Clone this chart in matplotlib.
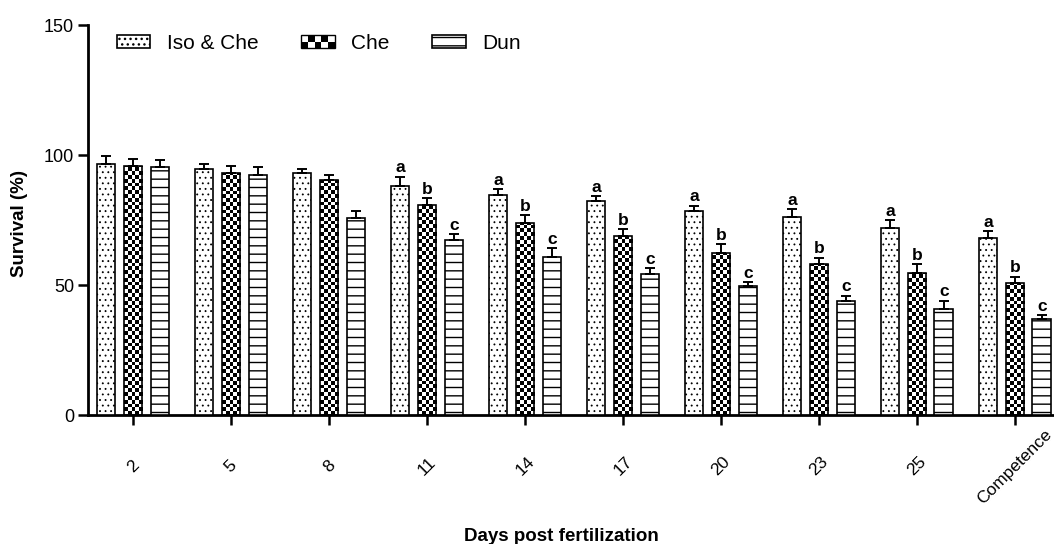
import numpy as np
import matplotlib
matplotlib.use('Agg')
import matplotlib.pyplot as plt
from matplotlib.patches import Rectangle
from matplotlib.legend_handler import HandlerBase

plt.rcParams['font.family'] = ['Liberation Sans', 'DejaVu Sans']
plt.rcParams['hatch.linewidth'] = 1.0

days = ['2', '5', '8', '11', '14', '17', '20', '23', '25', 'Competence']
iso_che = [96.5, 94.5, 93.0, 88.2, 84.6, 82.4, 78.5, 76.3, 71.9, 68.2]
iso_che_err = [3.1, 1.9, 1.7, 3.5, 2.2, 1.8, 2.0, 2.9, 3.1, 2.6]
che = [95.9, 93.0, 90.5, 80.8, 73.7, 68.9, 62.2, 58.1, 54.5, 50.6]
che_err = [2.6, 2.9, 1.9, 2.5, 3.1, 2.6, 3.4, 2.4, 3.4, 2.6]
dun = [95.2, 92.4, 75.8, 67.3, 60.6, 54.1, 49.6, 43.8, 40.6, 36.9]
dun_err = [2.8, 3.0, 2.7, 2.2, 3.7, 2.4, 1.4, 2.1, 3.4, 1.6]
letters = [None, None, None, 'abc', 'abc', 'abc', 'abc', 'abc', 'abc', 'abc']

fig = plt.figure(figsize=(10.54, 5.44), dpi=100)
ax = fig.add_axes([88 / 1054, 129 / 544, 966 / 1054, 390 / 544])

x = np.arange(len(days))
w = 0.19
off = 0.275


def checker(ax, bar, nx=5, cell_px=3.8):
    x0, y0 = bar.get_x(), bar.get_y()
    bw, bh = bar.get_width(), bar.get_height()
    cell_y = cell_px / 2.6
    ny = int(np.ceil(bh / cell_y))
    img = (np.add.outer(np.arange(ny), np.arange(nx)) % 2).astype(float)
    im = ax.imshow(img, cmap='gray_r', vmin=0, vmax=1, origin='lower',
                   extent=[x0, x0 + bw, y0, y0 + ny * cell_y],
                   aspect='auto', interpolation='nearest', zorder=2)
    im.set_clip_path(bar)


with plt.rc_context({'hatch.linewidth': 0.6}):
    b1 = ax.bar(x - off, iso_che, w, color='white', edgecolor='black', hatch='...',
                linewidth=1.2, zorder=3, label='Iso & Che')
b2 = ax.bar(x, che, w, color='none', edgecolor='black', linewidth=1.2,
            zorder=3, label='Che')
b3 = ax.bar(x + off, dun, w, color='white', edgecolor='black', hatch='--',
            linewidth=1.2, zorder=3, label='Dun')
for bar in b2:
    checker(ax, bar)

for xs, vals, errs in [(x - off, iso_che, iso_che_err), (x, che, che_err), (x + off, dun, dun_err)]:
    ax.errorbar(xs, vals, yerr=[np.zeros(len(vals)), errs], fmt='none', ecolor='black',
                elinewidth=1.4, capsize=3.8, capthick=1.4, zorder=4)

for i, lab in enumerate(letters):
    if lab is None:
        continue
    tops = [iso_che[i] + iso_che_err[i], che[i] + che_err[i], dun[i] + dun_err[i]]
    for j, (xs, t) in enumerate(zip([x[i] - off, x[i], x[i] + off], tops)):
        ax.text(xs, t + 0.5, lab[j], ha='center', va='bottom', fontsize=12.5,
                fontweight='bold')

ax.set_xlim(-0.46, 9.4)
ax.set_ylim(0, 150)
ax.set_yticks([0, 50, 100, 150])
ax.set_xticks(x)
ax.set_xticklabels(days, rotation=45, ha='center', va='center', rotation_mode='default')
ax.tick_params(axis='y', labelsize=13, length=7, width=1.8, pad=3)
ax.tick_params(axis='x', labelsize=12.5, length=7, width=1.8, pad=30)
for s in ['top', 'right']:
    ax.spines[s].set_visible(False)
for s in ['left', 'bottom']:
    ax.spines[s].set_linewidth(2)

ax.set_ylabel('Survival (%)', fontsize=13.5, fontweight='bold')
ax.yaxis.set_label_coords(-0.062, 0.49)
ax.set_xlabel('Days post fertilization', fontsize=13.5, fontweight='bold')
ax.xaxis.set_label_coords(0.49, -0.29)


class CheckerHandler(HandlerBase):
    def create_artists(self, legend, orig_handle, xdescent, ydescent, width, height, fontsize, trans):
        arts = []
        nx, ny = 5, 2
        cw, ch = width / nx, height / ny
        for r in range(ny):
            for c in range(nx):
                if (r + c) % 2 == 0:
                    arts.append(Rectangle((-xdescent + c * cw, -ydescent + r * ch), cw, ch,
                                          facecolor='black', edgecolor='none', transform=trans))
        arts.append(Rectangle((-xdescent, -ydescent), width, height, facecolor='none',
                              edgecolor='black', linewidth=1.0, transform=trans))
        return arts


leg = ax.legend(handles=[b1, b2, b3], ncol=3, frameon=False, loc='upper left',
                bbox_to_anchor=(117 / 1054, 1 - 34 / 544), bbox_transform=fig.transFigure,
                fontsize=15, handlelength=1.6, handleheight=0.6, handletextpad=0.8,
                columnspacing=2.05, borderpad=0, borderaxespad=0,
                handler_map={b2: CheckerHandler()})

fig.savefig('out.png', dpi=100)
